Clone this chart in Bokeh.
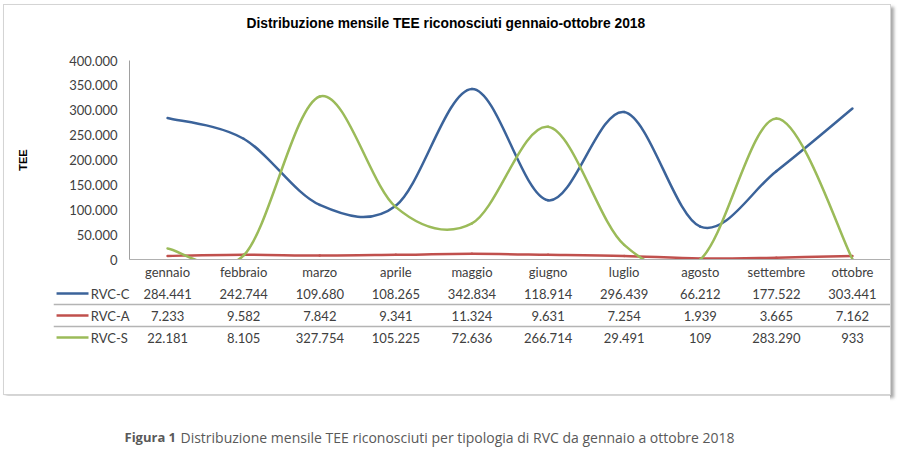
from bokeh.plotting import figure
from bokeh.models import (Range1d, SingleIntervalTicker, FixedTicker,
                          CustomJSTickFormatter, Label, ColumnDataSource)
from bokeh.layouts import column
from bokeh.core.properties import value
from bokeh.embed import file_html
from bokeh.resources import INLINE

# ---------------- data ----------------
months = ["gennaio", "febbraio", "marzo", "aprile", "maggio", "giugno",
          "luglio", "agosto", "settembre", "ottobre"]
series_names = ["RVC-C", "RVC-A", "RVC-S"]
rvc_c = [284441, 242744, 109680, 108265, 342834, 118914, 296439, 66212, 177522, 303441]
rvc_a = [7233, 9582, 7842, 9341, 11324, 9631, 7254, 1939, 3665, 7162]
rvc_s = [22181, 8105, 327754, 105225, 72636, 266714, 29491, 109, 283290, 933]
series_values = [rvc_c, rvc_a, rvc_s]
colors = ["#3B639A", "#C0504D", "#9BBB59"]

title_text = "Distribuzione mensile TEE riconosciuti gennaio-ottobre 2018"
caption_bold = "Figura 1"
caption_text = "Distribuzione mensile TEE riconosciuti per tipologia di RVC da gennaio a ottobre 2018"
y_label = "TEE"

FONT = "Lato"
TXT = "#404040"
AXIS_GRAY = "#A0A0A0"
W = 886

n = len(months)
# the table has a header band (0..1); months occupy bands 1..n+1
xs = [i + 1.5 for i in range(n)]


def it_fmt(v):
    return f"{v:,}".replace(",", ".")


def bezier_controls(px, py):
    """Excel-like smoothed line: cubic Bezier control points between data points."""
    m = len(px)
    out = {k: [] for k in ("x0", "y0", "x1", "y1", "cx0", "cy0", "cx1", "cy1")}
    for i in range(m - 1):
        a = i - 1 if i > 0 else i
        d = i + 2 if i + 2 < m else i + 1
        out["x0"].append(px[i]); out["y0"].append(py[i])
        out["x1"].append(px[i + 1]); out["y1"].append(py[i + 1])
        out["cx0"].append(px[i] + (px[i + 1] - px[a]) / 6)
        out["cy0"].append(py[i] + (py[i + 1] - py[a]) / 6)
        out["cx1"].append(px[i + 1] - (px[d] - px[i]) / 6)
        out["cy1"].append(py[i + 1] - (py[d] - py[i]) / 6)
    return out


def blank_fig(w, h):
    f = figure(width=w, height=h, x_range=Range1d(0, w), y_range=Range1d(0, h),
               output_backend="svg", toolbar_location=None, tools="",
               x_axis_location=None, y_axis_location=None,
               min_border=0, outline_line_color=None,
               background_fill_color="white", border_fill_color="white")
    f.xgrid.visible = False
    f.ygrid.visible = False
    return f


# ---------------- title strip ----------------
tf = blank_fig(W, 40)
tf.add_layout(Label(x=242, y=22, text=title_text, text_align="left",
                    text_baseline="middle", text_font="Liberation Sans",
                    text_font_size="13.8px", text_font_style="bold",
                    text_color="#000000"))

# ---------------- chart ----------------
p = figure(width=W, height=237, x_range=Range1d(1, n + 1), y_range=Range1d(0, 400000),
           output_backend="svg", toolbar_location=None, tools="",
           min_border_left=125, min_border_right=0, min_border_top=15,
           min_border_bottom=22, outline_line_color=None,
           background_fill_color="white", border_fill_color="white")
p.xgrid.visible = False
p.ygrid.visible = False

ya = p.yaxis[0]
ya.ticker = SingleIntervalTicker(interval=50000, num_minor_ticks=0)
ya.formatter = CustomJSTickFormatter(code="""
    return Math.round(tick).toString().replace(/\\B(?=(\\d{3})+(?!\\d))/g, ".");
""")
ya.major_tick_line_color = None
ya.minor_tick_line_color = None
ya.major_tick_out = 0
ya.major_tick_in = 0
ya.axis_line_color = AXIS_GRAY
ya.major_label_standoff = 12
ya.major_label_text_font = FONT
ya.major_label_text_font_size = "13px"
ya.major_label_text_color = TXT
ya.axis_label = y_label
ya.axis_label_standoff = 37
ya.axis_label_text_font = "Liberation Sans"
ya.axis_label_text_font_style = "bold"
ya.axis_label_text_font_size = "11px"
ya.axis_label_text_color = "#000000"

xa = p.xaxis[0]
xa.ticker = FixedTicker(ticks=xs)
xa.formatter = CustomJSTickFormatter(args=dict(labels=months), code="""
    const i = Math.round(tick - 1.5);
    return (i >= 0 && i < labels.length) ? labels[i] : "";
""")
xa.major_tick_line_color = None
xa.minor_tick_line_color = None
xa.major_tick_out = 0
xa.major_tick_in = 0
xa.axis_line_color = "#B0B0B0"
xa.major_label_standoff = 4
xa.major_label_text_font = FONT
xa.major_label_text_font_size = "13px"
xa.major_label_text_color = TXT

for vals, col in zip(series_values, colors):
    src = ColumnDataSource(bezier_controls(xs, vals))
    p.bezier(x0="x0", y0="y0", x1="x1", y1="y1", cx0="cx0", cy0="cy0",
             cx1="cx1", cy1="cy1", source=src, line_color=col,
             line_width=2.5, line_cap="round")

# ---------------- data table ----------------
k = len(series_names)
t = figure(width=W, height=112, x_range=Range1d(0, n + 1), y_range=Range1d(0, k),
           output_backend="svg", toolbar_location=None, tools="",
           x_axis_location=None, y_axis_location=None,
           min_border_left=49, min_border_right=0, min_border_top=0,
           min_border_bottom=46, outline_line_color=None,
           background_fill_color="white", border_fill_color="white")
t.xgrid.visible = False
t.ygrid.ticker = FixedTicker(ticks=list(range(1, k)))
t.ygrid.grid_line_color = "#B4B4B4"
t.ygrid.grid_line_width = 1.5

cell_x, cell_y, cell_t = [], [], []
for r, vals in enumerate(series_values):
    for i, v in enumerate(vals):
        cell_x.append(xs[i])
        cell_y.append(k - 0.5 - r)
        cell_t.append(it_fmt(v))
t.text(x=cell_x, y=cell_y, text=cell_t, text_align="center",
       text_baseline="middle", text_font=value(FONT), text_font_size="13px",
       text_color=TXT)

row_y = [k - 0.5 - r for r in range(k)]
t.segment(x0=[0.04] * k, y0=row_y, x1=[0.46] * k, y1=row_y,
          line_color=colors, line_width=2.5)
t.text(x=[0.49] * k, y=row_y, text=series_names, text_align="left",
       text_baseline="middle", text_font=value(FONT), text_font_size="13px",
       text_color=TXT)

# each figure in its own column, so that their frames are not aligned
inner = column(column(tf), column(p), column(t), spacing=0,
               styles={"border": "1px solid #D4D4D4",
                       "box-shadow": "3px 3px 3px #A8A8A8",
                       "margin": "4px 0px 0px 3px"})

# ---------------- caption ----------------
c = blank_fig(890, 55)
c.add_layout(Label(x=124, y=13.5, text=caption_bold, text_font="Open Sans",
                   text_font_size="13px", text_font_style="bold",
                   text_color="#595959", text_baseline="middle"))
c.add_layout(Label(x=180, y=13.5, text=caption_text, text_font="Open Sans",
                   text_font_size="14px", text_color="#595959",
                   text_baseline="middle"))

layout = column(inner, c, spacing=0)
open("out.html", "w").write(file_html(layout, INLINE))
